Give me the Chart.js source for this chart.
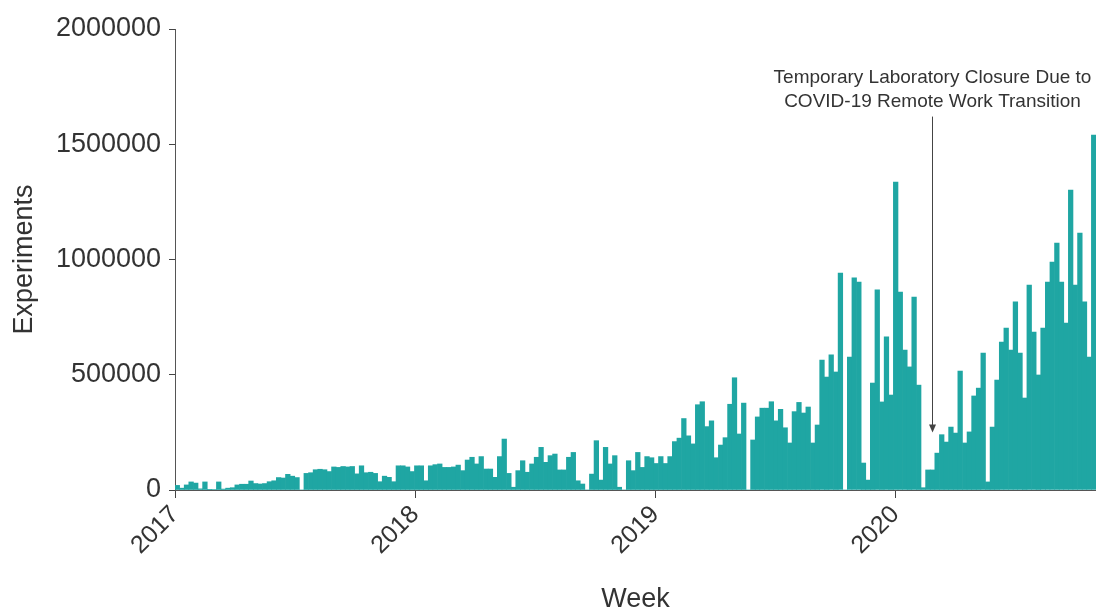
<!DOCTYPE html>
<html>
<head>
<meta charset="utf-8">
<script src="https://cdn.jsdelivr.net/npm/chart.js@4.4.1/dist/chart.umd.min.js"></script>
<style>
  html, body { margin: 0; padding: 0; background: #fff; }
  #wrap { width: 1096px; height: 610px; }
</style>
</head>
<body>
<div id="wrap"><canvas id="chart-experiments"></canvas></div>
<script>
// weekly experiment counts, one value per week starting 2017-01-01
const weeks2017 = [
  20000, 8000, 22000, 35000, 30000, 5000, 35000, 3000, 2000, 35000,
  4000, 8000, 10000, 22000, 25000, 25000, 39000, 28000, 26000, 28000,
  36000, 40000, 54000, 52000, 68000, 60000, 54000, 0, 72000, 75000,
  88000, 90000, 88000, 80000, 100000, 98000, 102000, 100000, 102000, 70000,
  105000, 75000, 77000, 72000, 36000, 60000, 55000, 36000, 105000, 105000,
  100000, 80000
];
const weeks2018 = [
  105000, 105000, 40000, 105000, 110000, 113000, 98000, 98000, 100000, 108000,
  84000, 130000, 142000, 113000, 145000, 91000, 91000, 55000, 145000, 221000,
  72000, 12000, 84000, 127000, 77000, 113000, 142000, 185000, 120000, 149000,
  156000, 87000, 87000, 142000, 163000, 40000, 26000, 0, 69000, 214000,
  43000, 185000, 113000, 149000, 12000, 0, 127000, 84000, 163000, 98000,
  145000, 140000
];
const weeks2019 = [
  115000, 145000, 115000, 145000, 210000, 225000, 310000, 235000, 200000, 370000,
  383000, 275000, 300000, 140000, 195000, 227000, 372000, 487000, 243000, 377000,
  0, 217000, 317000, 355000, 355000, 383000, 300000, 350000, 270000, 204000,
  340000, 380000, 334000, 360000, 204000, 282000, 564000, 490000, 586000, 512000,
  941000, 0, 577000, 920000, 902000, 117000, 43000, 464000, 868000, 382000,
  664000, 412000
];
const weeks2020 = [
  1336000, 859000, 607000, 534000, 837000, 455000, 10000, 87000, 87000, 160000,
  240000, 208000, 273000, 247000, 516000, 204000, 252000, 408000, 442000, 594000,
  35000, 273000, 477000, 642000, 703000, 607000, 816000, 594000, 399000, 889000,
  685000, 499000, 703000, 902000, 989000, 1071000, 902000, 724000, 1301000, 889000,
  1115000, 816000, 577000, 1540000
];
const yearLabels = ["2017", "2018", "2019", "2020"];
const yTicks = [0, 500000, 1000000, 1500000, 2000000];

const weeksPerYear = 365 / 7;
const experiments = [...weeks2017, ...weeks2018, ...weeks2019, ...weeks2020];
const points = experiments.map((v, i) => ({ x: i + 0.5, y: v }));

const noteLines = ["Temporary Laboratory Closure Due to", "COVID-19 Remote Work Transition"];
const noteWeek = 164.4;

const annotationPlugin = {
  id: "closureNote",
  afterDatasetsDraw(chart) {
    const { ctx, scales: { x, y } } = chart;
    const px = Math.round(x.getPixelForValue(noteWeek)) + 0.5;
    const top = y.getPixelForValue(1620000);
    const tip = y.getPixelForValue(250000);
    ctx.save();
    ctx.strokeStyle = "#444";
    ctx.fillStyle = "#444";
    ctx.lineWidth = 1;
    ctx.beginPath();
    ctx.moveTo(px, top);
    ctx.lineTo(px, tip - 6);
    ctx.stroke();
    ctx.beginPath();
    ctx.moveTo(px - 3.5, tip - 8);
    ctx.lineTo(px + 3.5, tip - 8);
    ctx.lineTo(px, tip);
    ctx.closePath();
    ctx.fill();
    ctx.fillStyle = "#333";
    ctx.font = "19px 'Liberation Sans', Arial, sans-serif";
    ctx.textAlign = "center";
    ctx.textBaseline = "middle";
    ctx.fillText(noteLines[0], px, y.getPixelForValue(1790000));
    ctx.fillText(noteLines[1], px, y.getPixelForValue(1685000));
    ctx.restore();
  }
};

const config = {
  type: "bar",
  data: {
    datasets: [
      {
        label: "Experiments",
        data: points,
        backgroundColor: "#1fa6a3",
        borderWidth: 0,
        barPercentage: 1,
        categoryPercentage: 1,
      },
    ],
  },
  options: {
    responsive: true,
    maintainAspectRatio: false,
    animation: false,
    layout: { padding: { top: 29, right: 0, left: 0, bottom: 0 } },
    plugins: {
      legend: { display: false },
      tooltip: { enabled: false },
    },
    scales: {
      x: {
        type: "linear",
        offset: false,
        min: 0,
        max: experiments.length,
        afterFit: (s) => { s.height = 120; },
        afterBuildTicks: (s) => {
          s.ticks = yearLabels.map((_, i) => ({ value: i * weeksPerYear }));
        },
        ticks: {
          callback: (v, i) => yearLabels[i],
          maxRotation: 45,
          minRotation: 45,
          color: "#333",
          padding: 2,
          font: { family: "'Liberation Sans', Arial, sans-serif", size: 25 },
        },
        grid: { display: true, offset: false, drawOnChartArea: false, drawTicks: true, tickLength: 8, color: "#444" },
        border: { display: true, color: "#555", width: 1 },
        title: {
          display: true,
          text: "Week",
          color: "#333",
          padding: { top: 0, bottom: 0 },
          font: { family: "'Liberation Sans', Arial, sans-serif", size: 27, lineHeight: 0.8 },
        },
      },
      y: {
        min: 0,
        max: 2000000,
        afterFit: (s) => { s.width = 175; },
        afterBuildTicks: (s) => {
          s.ticks = yTicks.map((v) => ({ value: v }));
        },
        ticks: {
          callback: (v) => String(v),
          color: "#333",
          padding: 8,
          font: { family: "'Liberation Sans', Arial, sans-serif", size: 27 },
        },
        grid: { display: true, drawOnChartArea: false, drawTicks: true, tickLength: 6, color: "#444" },
        border: { display: true, color: "#555", width: 1 },
        title: {
          display: true,
          text: "Experiments",
          color: "#333",
          padding: { top: 11, bottom: 0 },
          font: { family: "'Liberation Sans', Arial, sans-serif", size: 27, lineHeight: 1 },
        },
      },
    },
  },
  plugins: [annotationPlugin],
};

new Chart(document.getElementById("chart-experiments"), config);
</script>
</body>
</html>
